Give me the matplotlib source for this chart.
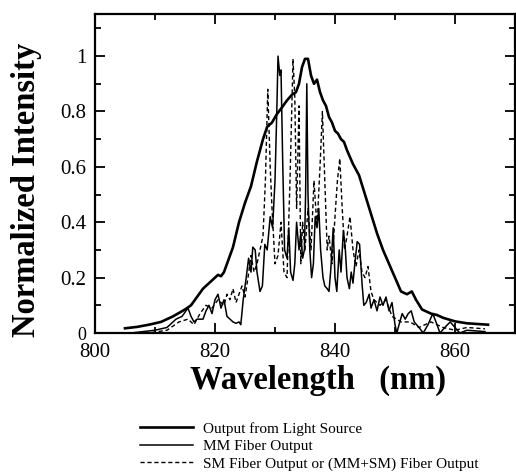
import matplotlib
matplotlib.use("Agg")
import matplotlib.pyplot as plt
from matplotlib.ticker import MultipleLocator

plt.rcParams['font.family'] = ['Liberation Serif', 'DejaVu Serif']

# Light source spectrum (thick solid)
src_wl = [805, 807, 809, 811, 813, 815, 816, 817, 818, 819, 820, 820.5, 821, 821.5, 822, 823, 824,
          825, 826, 827, 828, 828.7, 829.5, 830.3, 831, 832, 832.8, 833.5, 834, 834.5, 835, 835.5,
          836, 836.5, 837, 837.5, 838, 838.5, 839, 839.5, 840, 840.5, 841, 841.5, 842, 843, 844,
          845, 846, 847, 848, 849, 850, 851, 852, 852.8, 853.5, 854.5, 856, 857, 858, 860, 862, 865.5]
src_val = [0.017, 0.022, 0.03, 0.04, 0.06, 0.085, 0.10, 0.13, 0.16, 0.18, 0.20, 0.21, 0.205, 0.22,
           0.25, 0.31, 0.40, 0.47, 0.53, 0.62, 0.70, 0.745, 0.76, 0.79, 0.81, 0.84, 0.86, 0.87, 0.90,
           0.96, 0.99, 0.99, 0.93, 0.90, 0.915, 0.87, 0.84, 0.82, 0.78, 0.76, 0.73, 0.72, 0.70, 0.69,
           0.66, 0.61, 0.57, 0.50, 0.43, 0.36, 0.30, 0.25, 0.20, 0.15, 0.14, 0.15, 0.12, 0.085, 0.07,
           0.065, 0.055, 0.042, 0.035, 0.03]

# MM fiber output (thin solid)
mm_wl = [806, 808, 810, 812, 813.5, 814.5, 815.5, 816, 816.5, 817, 818, 818.5, 819, 819.5, 820,
         820.5, 821, 821.5, 822, 822.5, 823, 823.5, 824, 824.3, 824.7, 825.2, 825.6, 826, 826.3,
         826.7, 827, 827.5, 827.9, 828.3, 828.7, 829.2, 829.6, 830, 830.3, 830.5, 830.8, 831, 831.3,
         831.6, 832, 832.3, 832.6, 833, 833.3, 833.6, 834, 834.3, 834.6, 834.9, 835.1, 835.3, 835.5,
         835.8, 836.1, 836.4, 836.7, 837, 837.3, 837.6, 838, 838.3, 838.7, 839, 839.3, 839.7, 840,
         840.3, 840.7, 841, 841.4, 841.7, 842, 842.4, 842.7, 843, 843.3, 843.7, 844.1, 844.5, 844.8,
         845.2, 845.7, 846, 846.5, 847, 847.5, 848, 848.5, 849, 849.5, 850, 850.3, 850.8, 851.2,
         851.7, 852.2, 852.7, 853.2, 854, 854.7, 855.5, 856.3, 857, 857.5, 858.3, 859.2, 860, 860.8,
         862, 865]
mm_val = [0.0, 0.005, 0.01, 0.02, 0.05, 0.06, 0.09, 0.06, 0.04, 0.05, 0.05, 0.08, 0.10, 0.07, 0.12,
          0.14, 0.09, 0.12, 0.06, 0.05, 0.04, 0.035, 0.04, 0.03, 0.12, 0.20, 0.27, 0.22, 0.31,
          0.30, 0.22, 0.15, 0.17, 0.32, 0.30, 0.42, 0.38, 0.55, 0.80, 1.0, 0.93, 0.95, 0.60,
          0.30, 0.27, 0.38, 0.22, 0.19, 0.25, 0.40, 0.30, 0.36, 0.27, 0.30, 0.50, 0.90, 0.50,
          0.30, 0.20, 0.25, 0.42, 0.38, 0.45, 0.30, 0.20, 0.17, 0.16, 0.15, 0.23, 0.38, 0.20,
          0.15, 0.30, 0.22, 0.37, 0.31, 0.20, 0.16, 0.22, 0.18, 0.25, 0.33, 0.32, 0.18, 0.10,
          0.11, 0.14, 0.09, 0.12, 0.08, 0.13, 0.10, 0.13, 0.08, 0.11, 0.03, 0.0, 0.04, 0.07,
          0.05, 0.07, 0.08, 0.04, 0.02, 0.0, 0.03, 0.07, 0.03, 0.0, 0.02, 0.04, 0.02, 0.0,
          0.01, 0.005]

# SM fiber output or (MM+SM) fiber output (dashed)
sm_wl = [806, 809, 812, 814, 815.5, 816.5, 817.5, 818.5, 819.5, 820.5, 821.5, 822, 822.5, 823,
         823.5, 824, 824.5, 825, 825.5, 826, 826.5, 827, 827.5, 828, 828.4, 828.8, 829.2, 829.5,
         830, 830.5, 831, 831.5, 832, 832.5, 833, 833.3, 833.6, 834, 834.3, 834.6, 835, 835.5,
         836, 836.5, 837, 837.5, 837.9, 838.3, 838.7, 839, 839.5, 840, 840.4, 840.8, 841.2,
         841.6, 842, 842.5, 843, 843.5, 844, 844.5, 845, 845.5, 846, 846.5, 847.5, 848.5, 849.5,
         851, 852.5, 854, 856, 858, 860, 862, 865]
sm_val = [0.0, 0.0, 0.01, 0.04, 0.05, 0.03, 0.07, 0.10, 0.09, 0.12, 0.10, 0.14, 0.12, 0.16,
          0.11, 0.14, 0.17, 0.13, 0.20, 0.28, 0.22, 0.25, 0.30, 0.35, 0.55, 0.88, 0.60, 0.45,
          0.25, 0.28, 0.40, 0.22, 0.20, 0.55, 0.99, 0.85, 0.45, 0.82, 0.25, 0.40, 0.30, 0.45,
          0.30, 0.55, 0.38, 0.60, 0.80, 0.55, 0.30, 0.35, 0.25, 0.42, 0.55, 0.63, 0.45,
          0.30, 0.35, 0.42, 0.30, 0.24, 0.30, 0.22, 0.20, 0.24, 0.15, 0.12, 0.10, 0.12, 0.06,
          0.04, 0.04, 0.02, 0.04, 0.02, 0.01, 0.02, 0.015]

labels = ["Output from Light Source", "MM Fiber Output",
          "SM Fiber Output or (MM+SM) Fiber Output"]
x_ticks = [800, 820, 840, 860]
y_ticks = [0, 0.2, 0.4, 0.6, 0.8, 1.0]
y_tick_labels = ['0', '0.2', '0.4', '0.6', '0.8', '1']

fig = plt.figure(figsize=(5.16, 4.73), dpi=100)
ax = fig.add_axes([95 / 516, 1 - 333 / 473, 420 / 516, 319 / 473])

ax.plot(src_wl, src_val, color='black', lw=1.9, label=labels[0])
ax.plot(mm_wl, mm_val, color='black', lw=1.1, label=labels[1])
ax.plot(sm_wl, sm_val, color='black', lw=1.0, linestyle=(0, (3, 2)), label=labels[2])

ax.set_xlim(800, 870)
ax.set_ylim(0, 1.152)
ax.xaxis.set_minor_locator(MultipleLocator(10))
ax.yaxis.set_minor_locator(MultipleLocator(0.1))
ax.set_yticks(y_ticks)
ax.set_yticklabels(y_tick_labels)
ax.set_xticks(x_ticks)
ax.tick_params(which='both', direction='in', top=True, right=True, width=1.3, labelsize=15)
ax.tick_params(which='major', length=7)
ax.tick_params(which='minor', length=4)
ax.tick_params(axis='x', pad=7)
ax.tick_params(axis='y', pad=6)
ax.get_yticklabels()[0].set_fontsize(13)
for s in ax.spines.values():
    s.set_linewidth(1.6)

ax.set_xlabel("Wavelength   (nm)", fontsize=23.5, fontweight='bold')
ax.set_ylabel("Normalized Intensity", fontsize=23.5, fontweight='bold')
ax.xaxis.set_label_coords(0.532, -0.1)
ax.yaxis.set_label_coords(-0.127, 0.45)

leg = ax.legend(loc='upper left', bbox_to_anchor=(140 / 516, 1 - 422 / 473),
                bbox_transform=fig.transFigure, frameon=False, fontsize=11,
                handlelength=3.5, handletextpad=0.6, labelspacing=0.25,
                borderpad=0, borderaxespad=0)

fig.savefig("out.png", dpi=100)
